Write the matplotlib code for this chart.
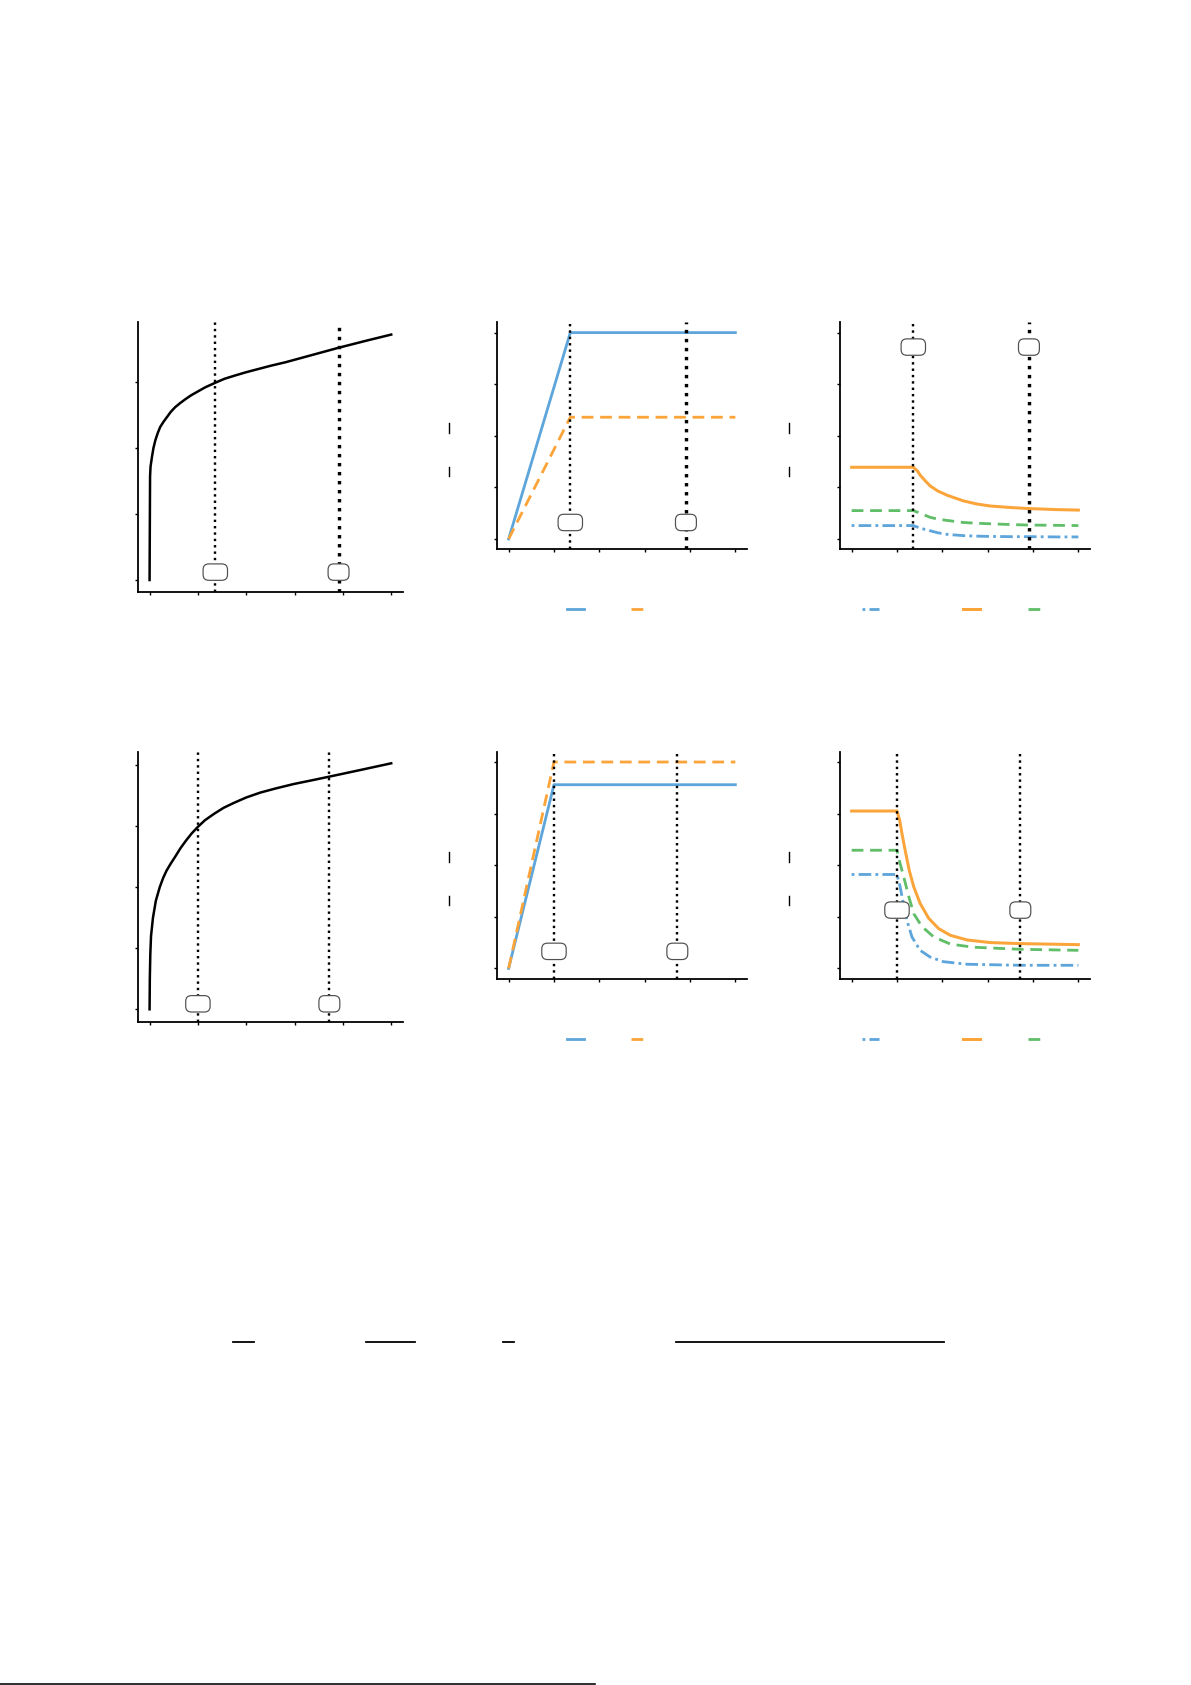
import matplotlib
matplotlib.use("Agg")
import matplotlib.pyplot as plt
from matplotlib.lines import Line2D

W, H, DPI = 1191, 1685, 144

blue = "#5DA5DA"
orange = "#FAA43A"
green = "#60BD68"

# ---- data ----
# row 1
r1_curve_x = [0, 0.005, 0.01, 0.02, 0.05, 0.08, 0.12, 0.17, 0.22, 0.29, 0.36, 0.44, 0.53,
              0.63, 0.74, 0.86, 0.98, 1.15, 1.36, 1.55, 1.77, 2.0, 2.26, 2.52, 2.81,
              3.26, 3.91, 4.5, 5.0]
r1_curve_y = [0, 0.81, 1.57, 1.72, 1.87, 2.0, 2.12, 2.23, 2.32, 2.4, 2.47, 2.55, 2.62,
              2.68, 2.74, 2.8, 2.85, 2.92, 2.99, 3.05, 3.1, 3.15, 3.2, 3.25, 3.3,
              3.39, 3.52, 3.63, 3.72]
r1_ramp_x = [0, 1.36, 5.0]
r1_ramp_a = [0, 4.0, 4.0]
r1_ramp_b = [0, 2.36, 2.36]
r1_decay_x = [0, 1.36, 1.45, 1.51, 1.62, 1.73, 1.9, 2.1, 2.46, 2.75, 3.05, 3.5, 3.9, 4.5, 5.0]
r1_decay_a = [0.26, 0.26, 0.23, 0.21, 0.185, 0.16, 0.12, 0.09, 0.065, 0.055, 0.05, 0.045,
              0.045, 0.04, 0.04]
r1_decay_b = [1.39, 1.39, 1.32, 1.24, 1.13, 1.03, 0.93, 0.85, 0.74, 0.68, 0.64, 0.61,
              0.59, 0.57, 0.56]
r1_decay_c = [0.55, 0.55, 0.52, 0.50, 0.46, 0.42, 0.385, 0.36, 0.32, 0.305, 0.295, 0.28,
              0.27, 0.265, 0.26]
r1_marks = [1.36, 3.91]

# row 2
r2_curve_x = [0, 0.005, 0.015, 0.03, 0.07, 0.13, 0.21, 0.28, 0.35, 0.44, 0.53, 0.64,
              0.75, 0.87, 1.0, 1.15, 1.33, 1.53, 1.74, 2.0, 2.29, 2.62, 2.98, 3.35,
              3.71, 4.36, 5.0]
r2_curve_y = [0, 0.5, 0.9, 1.2, 1.5, 1.78, 2.0, 2.15, 2.27, 2.39, 2.5, 2.64,
              2.76, 2.88, 2.99, 3.1, 3.2, 3.3, 3.38, 3.47, 3.55, 3.62, 3.69, 3.75,
              3.81, 3.92, 4.03]
r2_ramp_x = [0, 1.0, 5.0]
r2_ramp_a = [0, 3.56, 3.56]
r2_ramp_b = [0, 4.0, 4.0]
r2_decay_a_x = [0, 1.0, 1.07, 1.14, 1.22, 1.33, 1.51, 1.73, 2.02, 2.55, 3.72, 5.0]
r2_decay_a = [1.82, 1.82, 1.58, 1.26, 0.93, 0.61, 0.35, 0.22, 0.13, 0.08, 0.06, 0.06]
r2_decay_b_x = [0, 1.0, 1.06, 1.11, 1.18, 1.27, 1.37, 1.51, 1.70, 1.92, 2.18, 2.55,
                3.06, 3.72, 5.0]
r2_decay_b = [3.05, 3.05, 2.87, 2.61, 2.29, 1.90, 1.58, 1.26, 0.97, 0.77, 0.64, 0.55,
              0.50, 0.48, 0.46]
r2_decay_c_x = [0, 1.0, 1.06, 1.15, 1.26, 1.37, 1.55, 1.81, 2.18, 2.69, 3.72, 5.0]
r2_decay_c = [2.29, 2.29, 2.06, 1.77, 1.39, 1.06, 0.81, 0.61, 0.47, 0.41, 0.37, 0.35]
r2_marks = [1.0, 3.72]

mark_labels = ["max", "cut"]
ramp_labels = ["load", "response"]
decay_labels = ["boundary", "core", "mean"]

dashed = (0, (4.2, 2.4))
dashdot = (6.0, (4.5, 1.5, 1.0, 1.5))


def rect(l, t, r, b):
    return [l / W, 1 - b / H, (r - l) / W, (b - t) / H]


def style(ax, ylim, yticks, xlim=(-0.25, 5.25)):
    ax.spines["top"].set_visible(False)
    ax.spines["right"].set_visible(False)
    for s in ("left", "bottom"):
        ax.spines[s].set_linewidth(0.9)
    ax.set_xlim(*xlim)
    ax.set_ylim(*ylim)
    ax.set_xticks(range(6))
    ax.set_yticks(yticks)
    ax.tick_params(direction="out", length=1.6, width=0.7,
                   labelcolor="white", labelsize=6)


def marks(ax, xs, ybox, heavy):
    for i, x in enumerate(xs):
        lw = 1.7 if (heavy and i == 1) else 1.2
        ax.axvline(x, color="black", ls=":", lw=lw, zorder=3)
        ax.text(x, ybox, mark_labels[i], ha="center", va="center",
                fontsize=3.0, color="white", zorder=6,
                bbox=dict(boxstyle="round,pad=0.95", fc="white",
                          ec="#505050", lw=0.6))


def legend(ax, x_px, y_px, ncol):
    ax.legend(loc="center left", bbox_to_anchor=(x_px / W, 1 - y_px / H),
              bbox_transform=ax.figure.transFigure, ncol=ncol, frameon=False,
              fontsize=7, handlelength=1.18, handletextpad=0.5,
              columnspacing=0.78, borderpad=0, borderaxespad=0,
              labelcolor="white")


fig = plt.figure(figsize=(W / DPI, H / DPI), dpi=DPI)

rows = [
    dict(top=322.3, curve=(r1_curve_x, r1_curve_y), c_ylim=(-0.186, 3.906), c_yt=range(4),
         c_bottom=592.3, ramp=(r1_ramp_x, r1_ramp_a, r1_ramp_b),
         decay=((r1_decay_x, r1_decay_a), (r1_decay_x, r1_decay_b), (r1_decay_x, r1_decay_c)),
         marks=r1_marks, heavy=True, box=(0.12, 0.32, 3.72)),
    dict(top=751.7, curve=(r2_curve_x, r2_curve_y), c_ylim=(-0.208, 4.22), c_yt=range(5),
         c_bottom=1022, ramp=(r2_ramp_x, r2_ramp_a, r2_ramp_b),
         decay=((r2_decay_a_x, r2_decay_a), (r2_decay_b_x, r2_decay_b),
                (r2_decay_c_x, r2_decay_c)),
         marks=r2_marks, heavy=False, box=(0.09, 0.33, 1.13)),
]

for row in rows:
    top = row["top"]
    bottom = top + 227

    # left panel
    ax1 = fig.add_axes(rect(137.5, top, 403.3, row["c_bottom"]))
    cx, cy = row["curve"]
    ax1.plot(cx, cy, color="black", lw=1.25, solid_joinstyle="round")
    style(ax1, row["c_ylim"], row["c_yt"])
    marks(ax1, row["marks"], row["box"][0], row["heavy"])

    # middle panel
    ax2 = fig.add_axes(rect(497.3, top, 746.7, bottom))
    rx, ra, rb = row["ramp"]
    ax2.plot(rx, ra, color=blue, lw=1.4, label=ramp_labels[0])
    ax2.plot(rx, rb, color=orange, lw=1.4, ls=dashed, label=ramp_labels[1])
    style(ax2, (-0.2, 4.2), range(5))
    marks(ax2, row["marks"], row["box"][1], row["heavy"])
    legend(ax2, 567, top + 288, 2)

    # right panel
    ax3 = fig.add_axes(rect(840.3, top, 1089.7, bottom))
    (xa, da), (xb, db), (xc, dc) = row["decay"]
    ax3.plot(xa, da, color=blue, lw=1.4, ls=dashdot, label=decay_labels[0])
    ax3.plot(xb, db, color=orange, lw=1.5, label=decay_labels[1])
    ax3.plot(xc, dc, color=green, lw=1.4, ls=dashed, label=decay_labels[2])
    style(ax3, (-0.2, 4.2), range(5))
    marks(ax3, row["marks"], row["box"][2], row["heavy"])
    legend(ax3, 862, top + 288, 3)

    # fraction bars of the (blank) y labels
    for xb_px in (448.7, 788.7):
        for y0, y1 in ((top + 100.4, top + 110.4), (top + 144.4, top + 153.7)):
            fig.add_artist(Line2D([xb_px / W, xb_px / W], [1 - y0 / H, 1 - y1 / H],
                                  transform=fig.transFigure, color="black", lw=0.7))

# fraction bars of the equation below the panels
for x0, x1 in ((233.3, 253.8), (365.6, 414.9), (502.6, 514.4), (676.4, 944.1)):
    fig.add_artist(Line2D([x0 / W, x1 / W], [1 - 1342 / H] * 2,
                          transform=fig.transFigure, color="black", lw=0.9))

# footnote rule at the very bottom
fig.add_artist(Line2D([0, 595 / W], [1.2 / H] * 2, transform=fig.transFigure,
                      color="black", lw=0.8))

fig.savefig("out.png", dpi=DPI)
